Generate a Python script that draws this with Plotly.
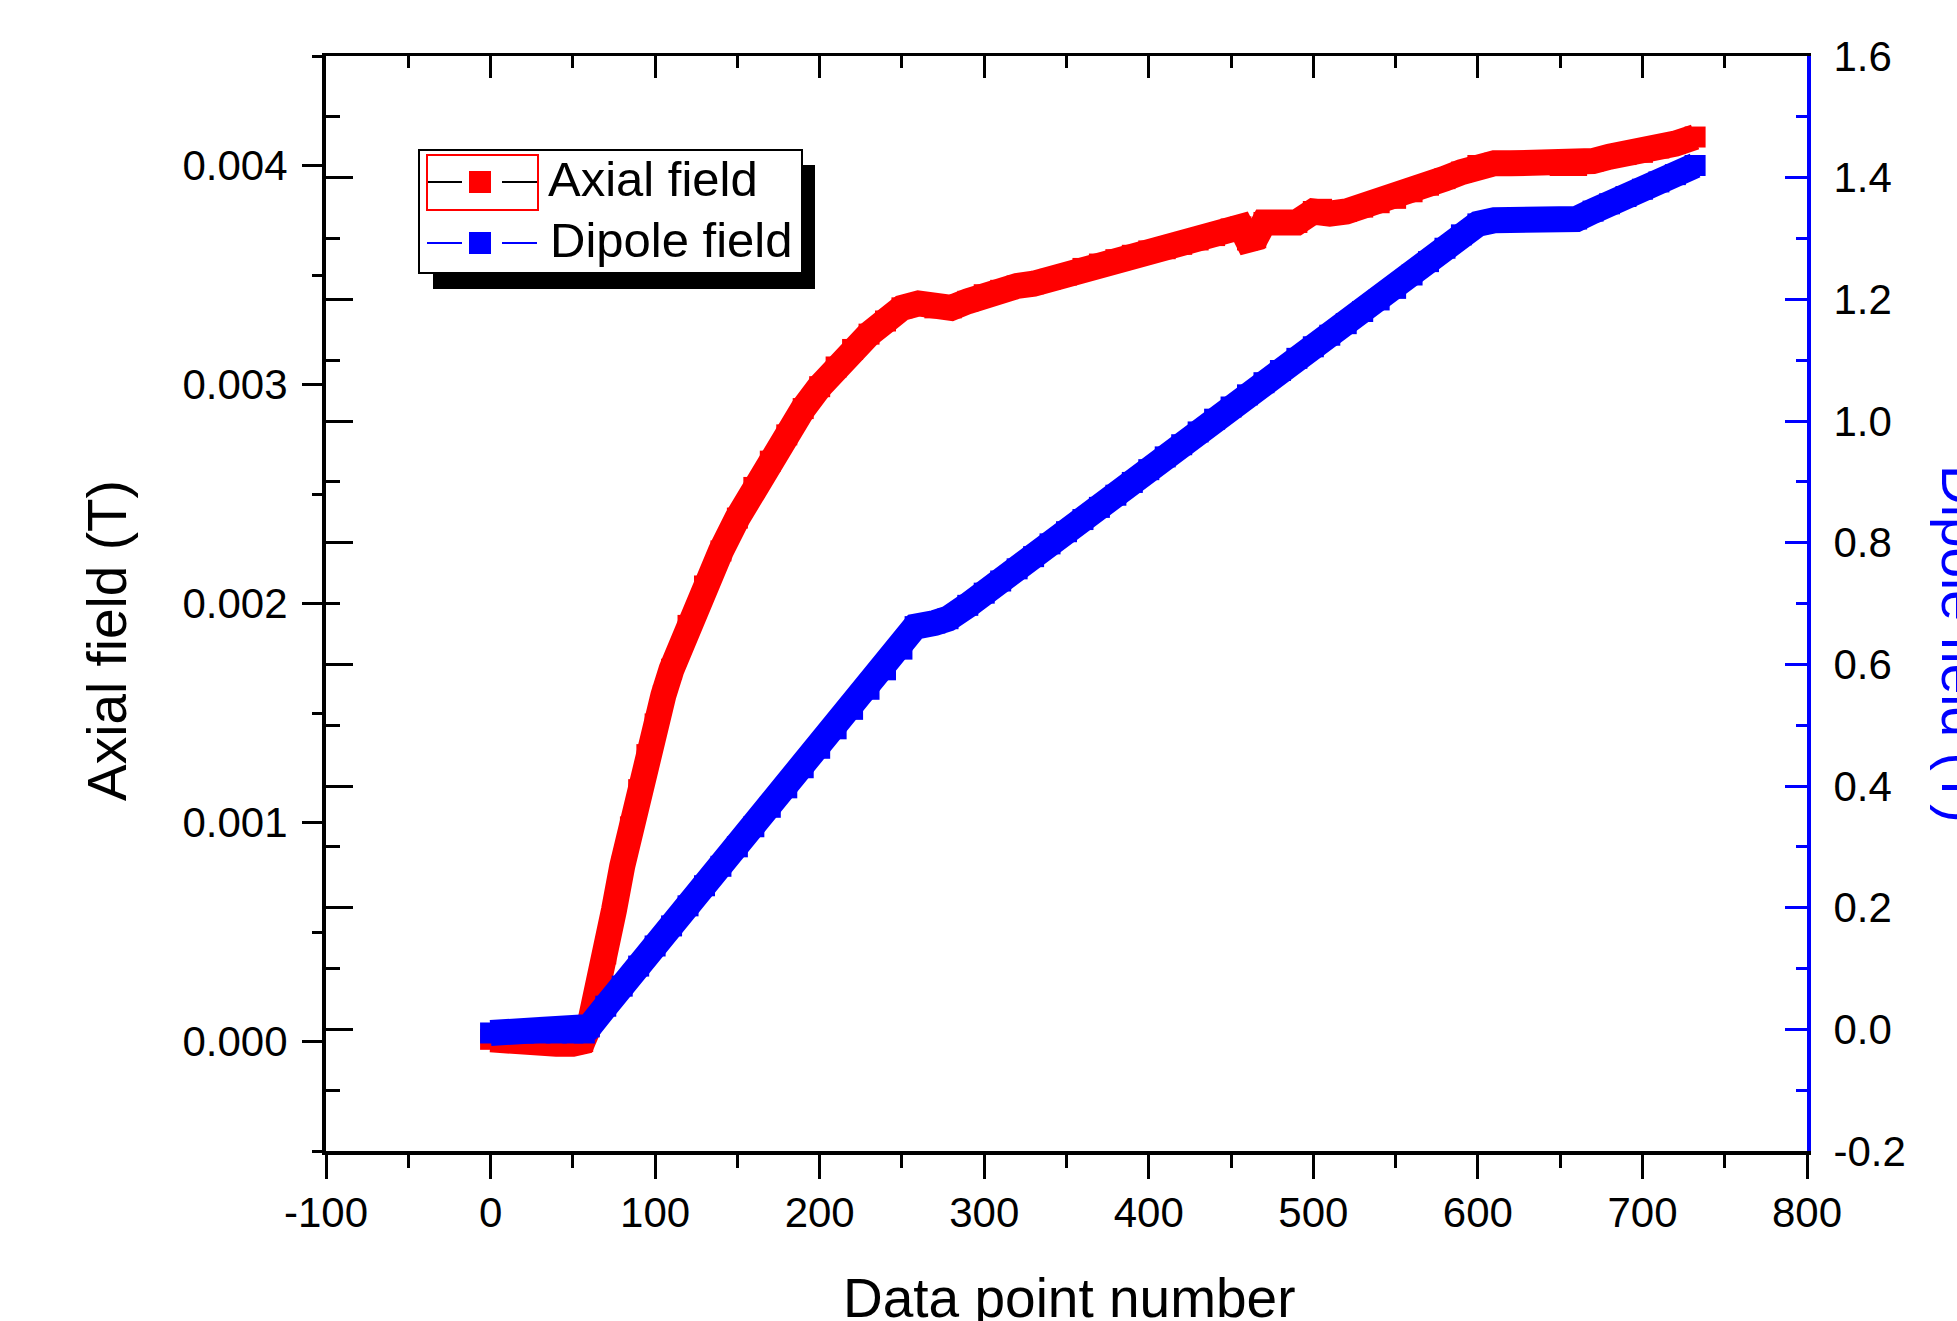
import plotly.graph_objects as go

# ---------------- data ----------------
axial_x = [0, 10, 20, 30, 40, 50, 56, 60, 65,
           70, 75, 80, 85, 90, 95, 100, 105, 110, 120, 130, 140, 150, 160, 170, 180, 190, 200,
           210, 220, 230, 240, 250, 260, 270, 280, 290, 300, 310, 320, 330, 340,
           350, 360, 370, 380, 390, 400, 410, 420, 430, 440, 450,
           456, 460, 465, 470, 480, 490, 500, 505, 510,
           520, 530, 540, 550, 560, 570, 580, 590, 600, 610, 620, 630, 640, 650,
           660, 670, 680, 690, 700, 710, 720, 732]
axial_T = [0.00001, 0.0, 0.0, -0.00001, -0.00001, -0.00001, 0.0, 0.00007, 0.00022,
           0.00040, 0.00060, 0.00080, 0.00098, 0.00115, 0.00131, 0.00145, 0.00158, 0.00170, 0.00190, 0.00208, 0.00224, 0.00239, 0.00253, 0.00265, 0.00277, 0.00289, 0.00299,
           0.00308, 0.00316, 0.00323, 0.00329, 0.00335, 0.00337, 0.00335, 0.00335, 0.00338, 0.00341, 0.00343, 0.00345, 0.00346, 0.00348,
           0.00350, 0.00353, 0.00355, 0.00357, 0.00359, 0.00361, 0.00362, 0.00364, 0.00366, 0.00368, 0.00371,
           0.00372, 0.00366, 0.00367, 0.00374, 0.00374, 0.00374, 0.00379, 0.00380, 0.00378,
           0.00379, 0.00381, 0.00383, 0.00385, 0.00388, 0.00391, 0.00394, 0.00397, 0.00400, 0.00401, 0.00401, 0.00401, 0.00401, 0.00400,
           0.00400, 0.00402, 0.00404, 0.00405, 0.00406, 0.00408, 0.00410, 0.00413]

dipole_x = [0, 10, 20, 30, 40, 50, 57,
            60, 70, 80, 90, 100, 110, 120, 130, 140, 150, 160, 170, 180, 190, 200,
            210, 220, 230, 240, 250, 258, 270, 278,
            290, 300, 310, 320, 330, 340, 350, 360, 370, 380, 390, 400, 410, 420,
            430, 440, 450, 460, 470, 480, 490, 500, 510, 520, 530, 540, 550, 560,
            570, 580, 590, 600, 610, 620, 630, 640, 650, 660,
            670, 680, 690, 700, 710, 720, 732]
dipole_T = [-0.006, -0.006, -0.006, -0.006, -0.006, -0.006, -0.006,
            0.004, 0.038, 0.071, 0.104, 0.137, 0.170, 0.203, 0.236, 0.268, 0.300, 0.333, 0.365, 0.397, 0.430, 0.462,
            0.494, 0.526, 0.559, 0.591, 0.625, 0.662, 0.668, 0.675,
            0.697, 0.717, 0.737, 0.757, 0.777, 0.798, 0.818, 0.838, 0.858, 0.878, 0.899, 0.920, 0.941, 0.961,
            0.982, 1.003, 1.023, 1.043, 1.063, 1.083, 1.103, 1.122, 1.141, 1.160, 1.180, 1.199, 1.218, 1.240,
            1.262, 1.284, 1.306, 1.324, 1.330, 1.330, 1.330, 1.330, 1.330, 1.332,
            1.345, 1.357, 1.369, 1.381, 1.393, 1.405, 1.420]

x_tick_vals = [-100, 0, 100, 200, 300, 400, 500, 600, 700, 800]
x_tick_text = ["-100", "0", "100", "200", "300", "400", "500", "600", "700", "800"]
left_tick_vals = [0.000, 0.001, 0.002, 0.003, 0.004]
left_tick_text = ["0.000", "0.001", "0.002", "0.003", "0.004"]
right_tick_vals = [-0.2, 0.0, 0.2, 0.4, 0.6, 0.8, 1.0, 1.2, 1.4, 1.6]
right_tick_text = ["-0.2", "0.0", "0.2", "0.4", "0.6", "0.8", "1.0", "1.2", "1.4", "1.6"]

series_names = ["Axial field", "Dipole field"]
x_title = "Data point number"
left_title = "Axial field (T)"
right_title = "Dipole field (T)"

assert len(axial_x) == len(axial_T)
assert len(dipole_x) == len(dipole_T)

# ---------------- layout geometry ----------------
W, H = 1957, 1321
L, R, T, B = 326, 1807, 56, 1151
PW, PH = R - L, B - T
FONT = "Liberation Sans, Arial, sans-serif"


def px(p):
    return (p - L) / PW


def py(p):
    return (B - p) / PH


x_minor = [-50 + 100 * i for i in range(9)]
left_minor = [-0.0005 + 0.001 * i for i in range(6)]
right_minor = [-0.1 + 0.2 * i for i in range(9)]

fig = go.Figure()
fig.add_trace(go.Scatter(
    x=axial_x, y=axial_T, name=series_names[0], mode="lines+markers",
    line=dict(color="#ff0000", width=26),
    marker=dict(symbol="square", size=21, color="#ff0000"),
    xaxis="x", yaxis="y", hoverinfo="skip", showlegend=False))
fig.add_trace(go.Scatter(
    x=dipole_x, y=dipole_T, name=series_names[1], mode="lines+markers",
    line=dict(color="#0000ff", width=26),
    marker=dict(symbol="square", size=21, color="#0000ff"),
    xaxis="x", yaxis="y2", hoverinfo="skip", showlegend=False))
# empty trace so that the top axis and the mirrored inner ticks are drawn
fig.add_trace(go.Scatter(x=[None], y=[None], xaxis="x2", yaxis="y3", mode="markers",
                         hoverinfo="skip", showlegend=False))

tickfont = dict(family=FONT, size=42, color="black")

fig.update_layout(
    template="none",
    width=W, height=H, autosize=False,
    margin=dict(l=L, r=W - R, t=T, b=H - B, pad=0, autoexpand=False),
    paper_bgcolor="white", plot_bgcolor="white", showlegend=False,
    font=dict(family=FONT, size=42, color="black"),
    xaxis=dict(range=[-100, 800], tickmode="array", tickvals=x_tick_vals, ticktext=x_tick_text,
               ticks="outside", ticklen=24, tickwidth=3, tickcolor="black",
               showline=True, linecolor="black", linewidth=4, showgrid=False, zeroline=False,
               tickfont=tickfont, ticklabelstandoff=-2, automargin=False,
               minor=dict(tickmode="array", tickvals=x_minor, ticks="outside", ticklen=13,
                          tickwidth=3, tickcolor="black", showgrid=False)),
    xaxis2=dict(range=[-100, 800], overlaying="x", side="top", anchor="y3",
                tickmode="array", tickvals=x_tick_vals, ticks="inside", ticklen=22, tickwidth=3,
                tickcolor="black", showticklabels=False, showline=True, linecolor="black",
                linewidth=3, showgrid=False, zeroline=False, automargin=False,
                minor=dict(tickmode="array", tickvals=x_minor, ticks="inside", ticklen=12,
                           tickwidth=3, tickcolor="black", showgrid=False)),
    yaxis=dict(range=[-0.0005, 0.0045], tickmode="array", tickvals=left_tick_vals, ticktext=left_tick_text,
               ticks="outside", ticklen=20, tickwidth=3, tickcolor="black",
               showline=True, linecolor="black", linewidth=4, showgrid=False, zeroline=False,
               tickfont=tickfont, ticklabelstandoff=6, automargin=False,
               minor=dict(tickmode="array", tickvals=left_minor, ticks="outside", ticklen=10,
                          tickwidth=3, tickcolor="black", showgrid=False)),
    yaxis2=dict(range=[-0.2, 1.6], overlaying="y", side="right", anchor="x",
                tickmode="array", tickvals=right_tick_vals, ticktext=right_tick_text,
                ticks="inside", ticklen=22, tickwidth=3, tickcolor="#0000ff",
                showline=True, linecolor="#0000ff", linewidth=4, showgrid=False, zeroline=False,
                tickfont=tickfont, ticklabelstandoff=14, automargin=False,
                minor=dict(tickmode="array", tickvals=right_minor, ticks="inside", ticklen=11,
                           tickwidth=3, tickcolor="#0000ff", showgrid=False)),
    yaxis3=dict(range=[-0.2, 1.6], overlaying="y", side="left", anchor="x2",
                tickmode="array", tickvals=right_tick_vals, ticks="inside", ticklen=27, tickwidth=3,
                tickcolor="black", showticklabels=False, showline=False, showgrid=False,
                zeroline=False, automargin=False,
                minor=dict(tickmode="array", tickvals=right_minor, ticks="inside", ticklen=14,
                           tickwidth=3, tickcolor="black", showgrid=False)),
)

# ---------------- legend (drawn as in the reference) ----------------
shapes = []


def rect(x0, y0, x1, y1, fill=None, line_color=None, lw=0):
    d = dict(type="rect", xref="paper", yref="paper",
             x0=px(x0), x1=px(x1), y0=py(y1), y1=py(y0), layer="above")
    d["fillcolor"] = fill if fill else "rgba(0,0,0,0)"
    d["line"] = dict(color=line_color if line_color else "rgba(0,0,0,0)", width=lw)
    return d


def hline(x0, x1, y, color, lw):
    return dict(type="line", xref="paper", yref="paper", x0=px(x0), x1=px(x1),
                y0=py(y), y1=py(y), line=dict(color=color, width=lw), layer="above")


shapes.append(rect(433, 165, 815, 289, fill="black"))
shapes.append(rect(419, 150, 802, 273, fill="white", line_color="black", lw=2))
shapes.append(rect(427, 155, 538, 210, line_color="#ff0000", lw=2))
shapes.append(hline(428, 462, 182, "black", 2))
shapes.append(hline(502, 537, 182, "black", 2))
shapes.append(rect(469, 171, 491, 193, fill="#ff0000"))
shapes.append(hline(427, 462, 243, "#0000ff", 2))
shapes.append(hline(502, 537, 243, "#0000ff", 2))
shapes.append(rect(469, 232, 491, 254, fill="#0000ff"))
fig.update_layout(shapes=shapes)

ann = []
ann.append(dict(text=series_names[0], x=px(547), y=py(179), xref="paper", yref="paper",
                xanchor="left", yanchor="middle", showarrow=False, borderpad=0,
                font=dict(family=FONT, size=49, color="black")))
ann.append(dict(text=series_names[1], x=px(549), y=py(240), xref="paper", yref="paper",
                xanchor="left", yanchor="middle", showarrow=False, borderpad=0,
                font=dict(family=FONT, size=49, color="black")))
ann.append(dict(text=x_title, x=px(1069), y=py(1298), xref="paper", yref="paper",
                xanchor="center", yanchor="middle", showarrow=False, borderpad=0,
                font=dict(family=FONT, size=55, color="black")))
ann.append(dict(text=left_title, x=px(107), y=py(641), xref="paper", yref="paper",
                xanchor="center", yanchor="middle", showarrow=False, borderpad=0, textangle=-90,
                font=dict(family=FONT, size=55, color="black")))
ann.append(dict(text=right_title, x=px(1929), y=py(644), xref="paper", yref="paper",
                xanchor="left", yanchor="middle", showarrow=False, borderpad=0, textangle=90,
                font=dict(family=FONT, size=55, color="#0000ff")))
fig.update_layout(annotations=ann)

fig.write_html("out.html", config={"displayModeBar": False},
               post_script="document.body.style.margin='0px';document.body.style.overflow='hidden';")
